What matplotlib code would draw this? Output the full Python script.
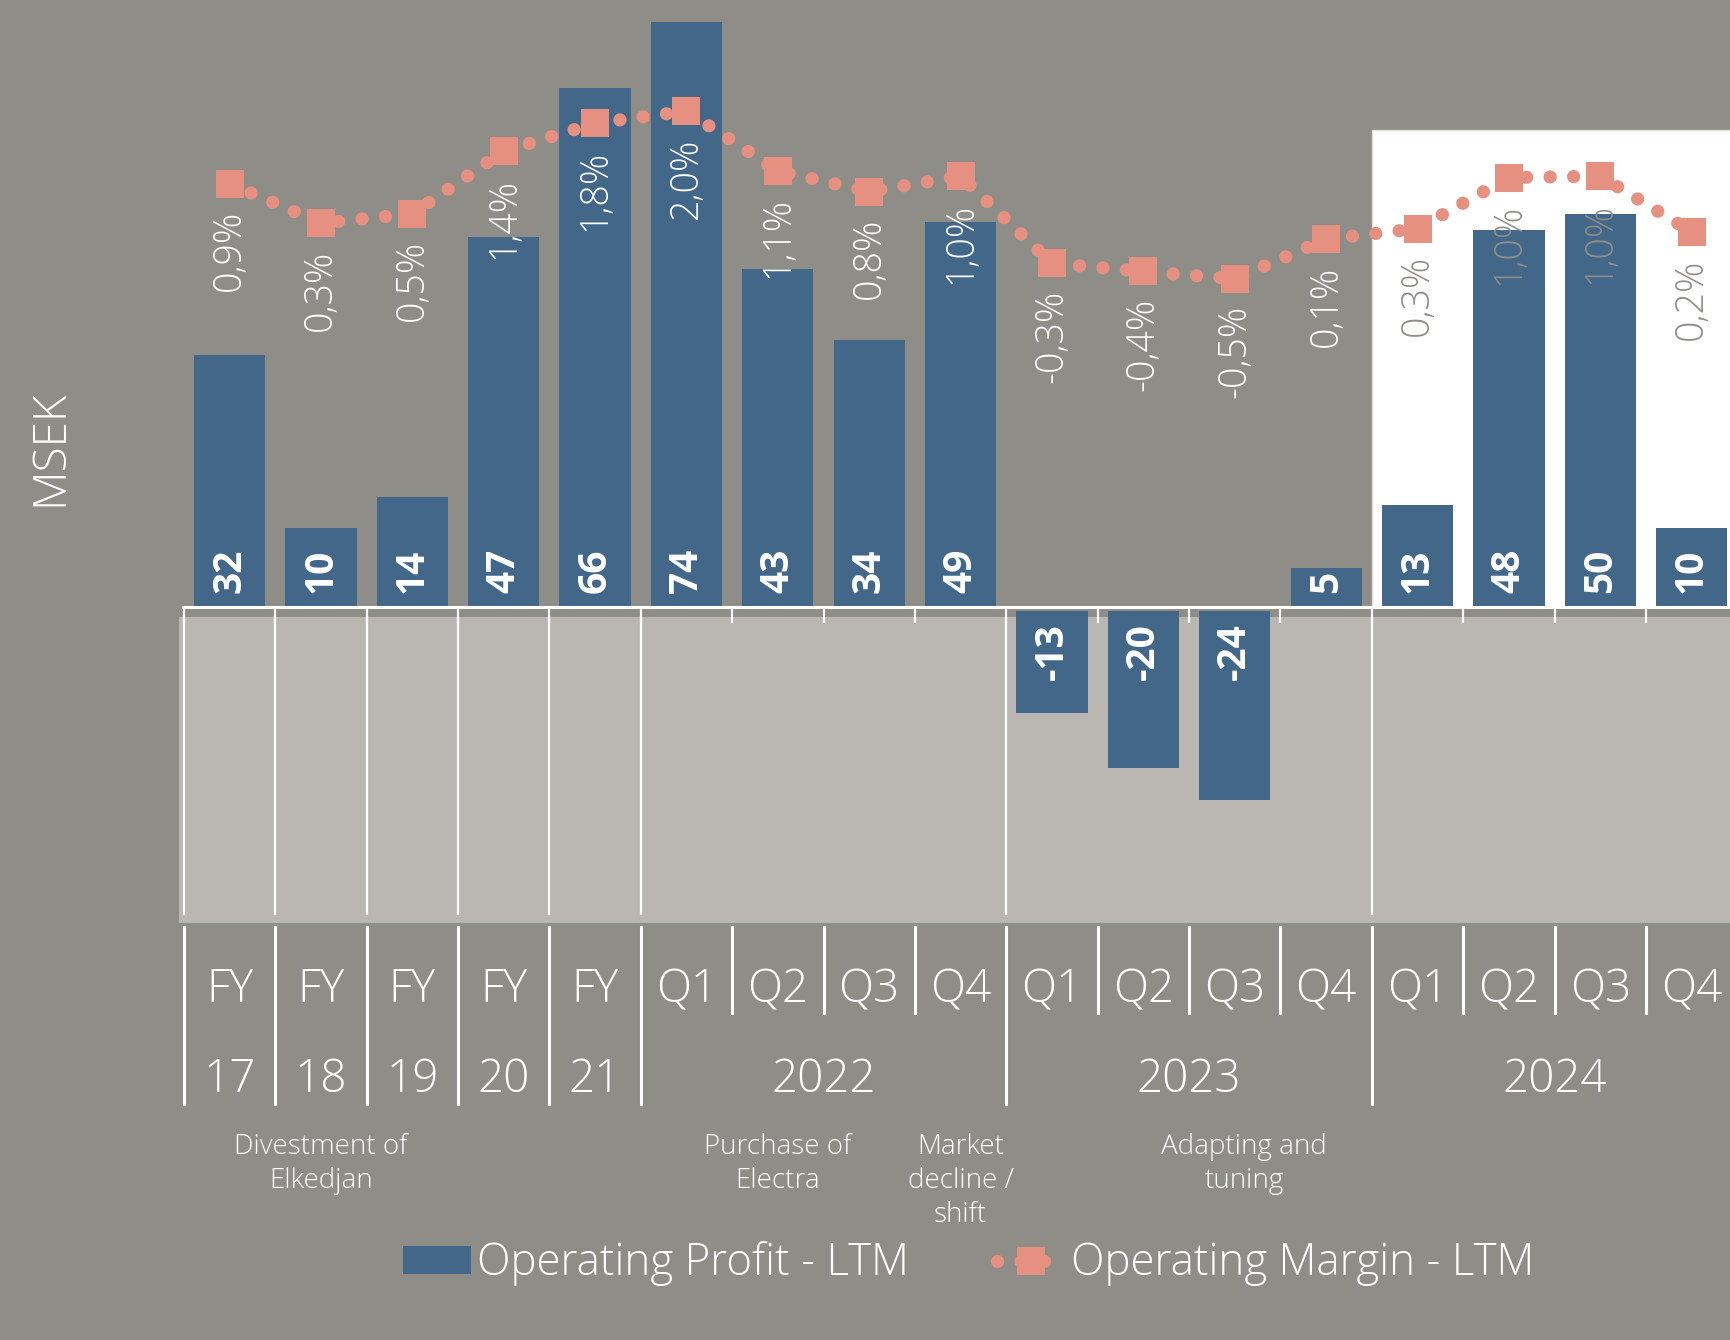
import matplotlib.pyplot as plt
from matplotlib.patches import Rectangle, Patch
from matplotlib.lines import Line2D
import numpy as np

plt.rcParams['font.family'] = ['Open Sans', 'DejaVu Sans']

# Data
periods = ["FY", "FY", "FY", "FY", "FY", "Q1", "Q2", "Q3", "Q4",
           "Q1", "Q2", "Q3", "Q4", "Q1", "Q2", "Q3", "Q4"]
fy_years = ["17", "18", "19", "20", "21"]
year_groups = ["2022", "2023", "2024"]
profit = [32, 10, 14, 47, 66, 74.4, 43, 34, 49, -13, -20, -24, 5, 13, 48, 50, 10]
margin = [0.93, 0.34, 0.48, 1.41, 1.83, 2.01, 1.12, 0.81, 1.04,
          -0.26, -0.38, -0.49, 0.10, 0.26, 1.02, 1.04, 0.21]
note_pos = [1, 6, 8, 11.1]
note_text = ["Divestment of\nElkedjan", "Purchase of\nElectra",
             "Market\ndecline /\nshift", "Adapting and\ntuning"]

BG = "#8f8d88"
LIGHT = "#bab7b2"
BLUE = "#436789"
SALMON = "#e59080"

x = np.arange(len(profit))
W, H = 1731, 1340
L = 182 / W
xlim = (-0.52, 16.43)

fig = plt.figure(figsize=(W / 100, H / 100), dpi=100, facecolor=BG)

# main axes (bars)
ax = fig.add_axes([L, 1 - 923 / H, 1 - L, 923 / H])
ax.set_facecolor("none")
ax.set_xlim(*xlim)
ax.set_ylim(-40.2, 77.2)
ax.axis("off")

# white box behind 2024, light grey band below zero
ax.add_patch(Rectangle((12.5, 0), 5, 60.7, facecolor="white", edgecolor="#e2ddd8",
                       lw=1, zorder=0, clip_on=False))
ax.add_patch(Rectangle((-0.553, -40.2), 18, 40.2 - 1.26, facecolor=LIGHT, lw=0,
                       zorder=0, clip_on=False))
for b in [-0.5, 0.5, 1.5, 2.5, 3.5, 4.5, 8.5, 12.5]:
    ax.plot([b, b], [-1.26, -39.1], color="white", lw=1.6, zorder=1)

# negative bars hang just below the zero line
gap = 0.5
bottoms = [-gap if v < 0 else 0 for v in profit]
ax.bar(x, profit, width=0.78, bottom=bottoms, color=BLUE, zorder=2)
ax.axhline(0, color="white", lw=2.2, zorder=3)
ax.vlines(np.arange(-0.5, 17), -2.0, 0, color="white", lw=1.6, zorder=3)

for i, v in enumerate(profit):
    if v >= 0:
        ax.annotate(f"{v:.0f}", (i, 0), xytext=(0, 10), textcoords="offset points",
                    rotation=90, ha="center", va="bottom", color="white",
                    fontsize=28, fontweight="bold", zorder=4)
    else:
        ax.annotate(f"{v:.0f}", (i, 0), xytext=(0, -12), textcoords="offset points",
                    rotation=90, ha="center", va="top", color="white",
                    fontsize=28, fontweight="bold", zorder=4)

# margin line
ax2 = ax.twinx()
ax2.set_ylim(-10.09, 3.666)
ax2.axis("off")
line_style = dict(color=SALMON, lw=9.5, linestyle=(0, (0.01, 1.77)),
                  dash_capstyle="round", marker="s", markersize=20.5,
                  markeredgewidth=0)
ax2.plot(x, margin, **line_style)
for i, m in enumerate(margin):
    lab = f"{m:.1f}%".replace(".", ",")
    ax2.annotate(lab, (i, m), xytext=(0, -19), textcoords="offset points",
                 rotation=90, ha="center", va="top", fontsize=27,
                 fontweight="light", color="white" if i < 13 else BG)

# category table under the chart
axt = fig.add_axes([L, 0, 1 - L, (H - 923) / H])
axt.set_xlim(*xlim)
axt.set_ylim(H, 923)
axt.axis("off")
for b in [-0.5, 0.5, 1.5, 2.5, 3.5, 4.5, 8.5, 12.5]:
    axt.plot([b, b], [927, 1104], color="white", lw=2.2)
for b in [5.5, 6.5, 7.5, 9.5, 10.5, 11.5, 13.5, 14.5, 15.5]:
    axt.plot([b, b], [927, 1013], color="white", lw=2.2)
for i, p in enumerate(periods):
    axt.text(i, 990, p, ha="center", va="center", fontsize=33,
             fontweight="light", color="white")
for i, y in enumerate(fy_years):
    axt.text(i, 1080, y, ha="center", va="center", fontsize=33,
             fontweight="light", color="white")
for k, g in enumerate(year_groups):
    axt.text(6.5 + 4 * k, 1080, g, ha="center", va="center", fontsize=33,
             fontweight="light", color="white")
for p, t in zip(note_pos, note_text):
    axt.text(p, 1133, t, ha="center", va="top", fontsize=20, linespacing=1.29,
             fontweight="light", color="white")

fig.text(50 / W, 1 - 448 / H, "MSEK", rotation=90, ha="center", va="center",
         fontsize=33, fontweight="light", color="white")

handles = [Patch(facecolor=BLUE), Line2D([], [], **line_style)]
fig.legend(handles, ["Operating Profit - LTM", "Operating Margin - LTM"],
           loc="center left", bbox_to_anchor=(403 / W, 1 - 1264 / H), ncol=2,
           frameon=False, labelcolor="white", borderpad=0,
           borderaxespad=0, handlelength=1.55, handleheight=0.60,
           handletextpad=0.14, columnspacing=2.0, numpoints=1,
           prop={"weight": "light", "size": 31.6})

fig.savefig("out.png", dpi=100, facecolor=BG)
